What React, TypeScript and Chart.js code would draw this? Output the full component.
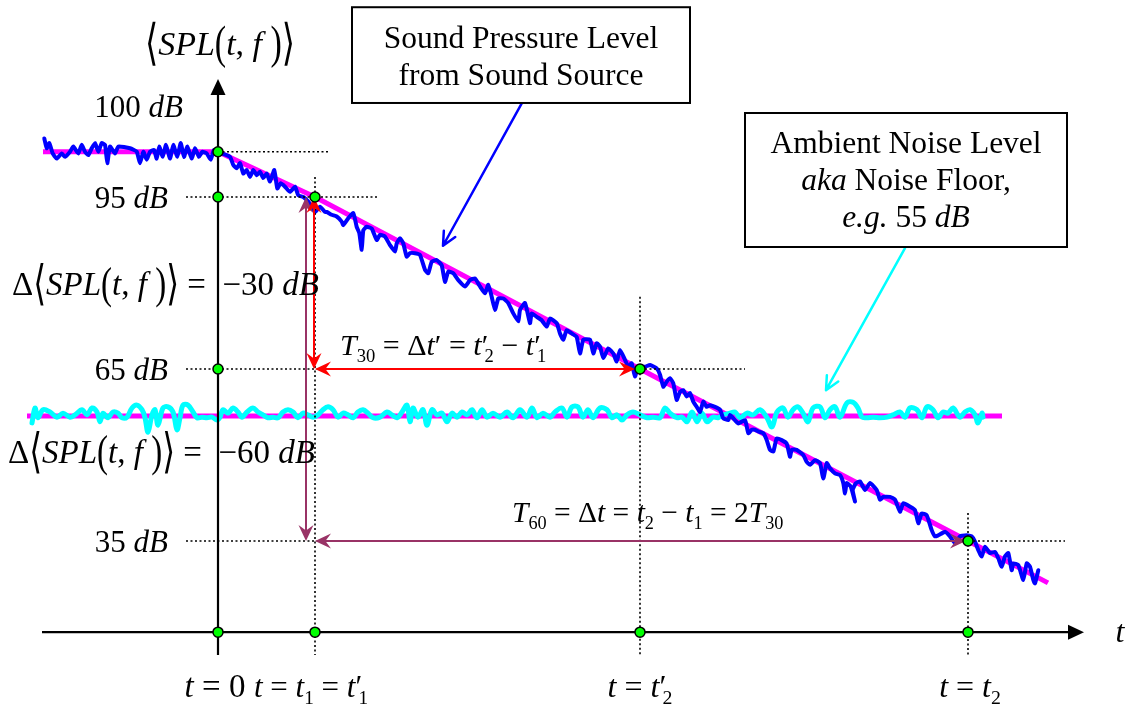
import React, { useEffect, useRef } from "react";
import { Chart, registerables } from "chart.js";

Chart.register(...registerables);

// ---------- data (t in arbitrary time units, level in dB) ----------
const keyTimes = [0, 97, 422, 750]; // t = 0, t1 = t1', t2', t2
const levelValues = [102.9, 95, 65, 35];
const levelLabels = ["100", "95", "65", "35"];
const axisLevel = 19.1;
const noiseFloorLevel = 56.8;

const trendTrace: [number, number][] = [
  [-175, 102.9], [0, 102.9], [97, 95], [422, 65], [750, 35], [830, 27.7],
];
const ambientTrace: [number, number][] = [
  [-191, noiseFloorLevel], [784, noiseFloorLevel],
];

const splTrace: [number, number][] = [
  [-173.7, 105.2], [-171.3, 103.5], [-168.7, 104.4], [-165.3, 102.6], [-161.3, 101.7], [-156.3, 102.6],
  [-153, 102.0], [-148, 102.9], [-144.7, 103.8], [-139.7, 102.6], [-136.3, 104.1], [-133, 102.9],
  [-129.7, 102.3], [-126.3, 103.5], [-123, 104.4], [-119.7, 102.9], [-116.3, 104.4], [-113, 104.1],
  [-110.7, 100.9], [-108, 103.8], [-103, 102.6], [-99.7, 103.8], [-88, 103.5], [-81.3, 102.9],
  [-78, 100.9], [-74.7, 102.9], [-71.3, 101.5], [-68, 102.9], [-64, 103.2], [-61.3, 101.7],
  [-58.7, 103.8], [-55.3, 102.0], [-52, 104.1], [-48, 101.7], [-44.7, 104.1], [-40.7, 102.0],
  [-37.3, 104.4], [-34, 102.0], [-30.7, 103.8], [-26.3, 101.7], [-23, 103.5], [-19, 102.0],
  [-15.7, 102.9], [-11.3, 102.6], [-7.3, 101.5], [-4, 103.2], [0.3, 102.9],
  [3.7, 102.6], [12, 102.0], [15.3, 100.6], [18.7, 100.0], [22, 100.9], [25.3, 99.1], [28.7, 99.7],
  [32, 98.5], [35.3, 99.7], [38.7, 98.8], [42, 99.4], [45.3, 98.3], [48.7, 99.1], [52, 97.7],
  [56.3, 99.7], [59.3, 96.5], [62.7, 97.4], [67, 96.8], [72, 95.9], [77, 96.8], [80.3, 95.3],
  [85.3, 95.0], [90.3, 94.2], [93.7, 93.3], [97, 92.4], [102, 93.3], [107, 92.4],
  [108.7, 92.4], [113.7, 91.9], [118.7, 91.6], [123.7, 90.7], [125.3, 90.1], [130.3, 91.3],
  [135.3, 92.2], [138.7, 89.8], [141.3, 88.7], [143.7, 85.8], [145.3, 89.2], [148.7, 89.8],
  [153.7, 89.5], [158.7, 87.5], [162, 88.4], [167, 88.1], [172, 86.6], [177, 85.5], [178.7, 86.9],
  [182, 87.8], [185.3, 86.9], [188.7, 84.6], [192, 85.2], [197, 85.2], [202, 84.9], [207, 82.3],
  [210.3, 81.7], [213.7, 83.7], [218.7, 84.0], [223.7, 83.1], [227, 80.2], [230.3, 82.0],
  [235.3, 81.7], [240.3, 80.5], [247, 79.4], [252, 80.5], [257, 80.8], [262, 79.4], [267, 78.2],
  [270.3, 79.7], [273.7, 77.6], [277, 75.3], [280.3, 77.3], [285.3, 77.3], [290.3, 76.5],
  [295.3, 74.7], [300.3, 73.3], [302, 75.3], [307, 76.5], [312, 73.0], [313.7, 74.7], [318.7, 74.1],
  [323.7, 73.5], [328.7, 72.4], [332, 73.8], [338.7, 73.0], [342, 71.2], [345.3, 70.1], [348.7, 71.8],
  [353.7, 71.2], [358.7, 70.6], [362, 67.7], [365.3, 70.1], [372, 70.1], [375.3, 67.7], [378.7, 69.5],
  [382, 68.9], [385.3, 66.9], [390.3, 68.6], [395.3, 67.7], [398.7, 66.3], [402, 68.3], [407, 66.6],
  [410.3, 65.4], [413.7, 66.0], [417, 63.7], [420.3, 65.4],
  [427, 65.4], [432, 65.7], [438.7, 65.1], [442, 64.0], [445.3, 61.9], [448.7, 62.8], [452, 63.4],
  [455.3, 62.5], [458.7, 59.6], [462, 61.0], [465.3, 61.3], [468.7, 60.2], [472, 60.8], [475.3, 59.3],
  [478.7, 58.4], [482, 57.5], [485.3, 59.3], [488.7, 58.4], [492, 58.7], [497, 58.4], [502, 57.9],
  [505.3, 56.4], [510.3, 56.1], [512, 57.0], [515.3, 56.4], [520.3, 55.5], [527, 56.1], [530.3, 53.8],
  [533.7, 54.4], [537, 54.4], [540.3, 54.1], [545.3, 53.8], [548.7, 52.6], [552, 50.9], [555.3, 50.6],
  [558.7, 52.9], [563.7, 52.6], [568.7, 52.0], [572, 49.7], [573.7, 50.9], [578.7, 50.9], [585.3, 50.0],
  [588.7, 48.8], [592, 48.3], [597, 49.1], [602, 48.6], [605.3, 45.9], [608.7, 48.6], [612, 47.7],
  [617, 46.8], [622, 46.5], [625.3, 45.1], [627, 43.3], [628.7, 45.1], [632.7, 44.5], [637, 41.9],
  [634.7, 43.9], [638, 45.1], [642, 45.4], [647, 43.9], [652, 45.1], [658.7, 43.9], [662, 42.2],
  [665.3, 42.7], [672, 42.7], [677, 42.2], [682, 40.1], [685.3, 41.6], [692, 41.0], [697, 40.4],
  [700.3, 38.1], [703.7, 39.8], [708.7, 39.5], [713.7, 36.9], [717, 35.8], [720.3, 36.0], [727, 36.6],
  [732, 35.8], [737, 34.6], [742, 35.8], [748.7, 36.0], [753.7, 35.8], [757, 34.9], [760.3, 33.4],
  [763.7, 32.3], [767, 34.0], [772, 32.9], [777, 33.1], [780.3, 32.0], [783.7, 30.5], [787, 32.3],
  [790.3, 32.9], [793.7, 29.9], [795.3, 31.1], [800.3, 30.8], [805.3, 28.2], [808.7, 31.1], [812, 30.5],
  [815.3, 28.2], [817, 27.6], [820.3, 29.9],
];

const noiseTrace: [number, number][] = [
  [-186, 55.6], [-183, 58.2], [-180, 56.5], [-175, 57.9], [-168, 57.5], [-161, 56.6], [-155, 57.3],
  [-148, 56.6], [-143, 57.0], [-136, 57.9], [-131, 57.0], [-126, 58.2], [-121, 57.5], [-118, 55.8],
  [-115, 57.3], [-110, 56.5], [-105, 57.5], [-100, 57.3], [-96, 56.5], [-91, 56.6], [-86, 58.2],
  [-81, 58.7], [-76, 57.9], [-73, 56.5], [-70, 54.0], [-66, 57.0], [-63, 57.9], [-60, 55.2], [-55, 58.2],
  [-50, 58.4], [-45, 57.5], [-41, 54.4], [-38, 56.5], [-35, 58.7], [-30, 58.7], [-25, 57.5], [-21, 56.5],
  [-16, 56.6], [-11, 56.5], [-6, 56.6], [-1, 56.1], [2, 56.6], [5, 57.9], [10, 57.3], [15, 58.2],
  [20, 57.5], [24, 56.6], [29, 57.5], [35, 58.2], [40, 57.5], [45, 57.0], [50, 56.5], [55, 56.6],
  [60, 56.5], [65, 57.5], [70, 57.9], [75, 57.5], [80, 56.5], [85, 57.3], [90, 57.0], [95, 56.6],
  [100, 57.0], [105, 57.9], [110, 58.4], [115, 57.9], [120, 56.6], [125, 57.3], [130, 57.0], [135, 56.5],
  [140, 57.5], [145, 57.9], [150, 57.3], [155, 56.5], [162, 56.6], [169, 57.5], [174, 57.0], [179, 56.5],
  [184, 57.5], [189, 58.7], [192, 55.8], [195, 58.2], [200, 56.6], [205, 57.9], [209, 55.2], [214, 57.9],
  [219, 57.0], [224, 57.3], [229, 55.8], [234, 57.3], [239, 56.6], [244, 57.5], [249, 57.0], [254, 57.9],
  [259, 56.5], [264, 57.9], [269, 56.6], [275, 57.3], [282, 56.6], [289, 57.5], [295, 56.5], [302, 57.9],
  [309, 56.6], [314, 58.2], [319, 56.5], [325, 57.3], [332, 56.6], [337, 57.5], [344, 58.2], [349, 56.6],
  [354, 58.4], [360, 58.4], [365, 56.6], [370, 57.9], [375, 56.5], [382, 58.2], [389, 57.9], [394, 56.5],
  [399, 57.0], [404, 56.1], [409, 57.0], [415, 57.5], [422, 57.0], [429, 56.5], [435, 56.6], [442, 56.5],
  [447, 58.2], [452, 57.3], [459, 56.5], [464, 56.6], [469, 55.8], [474, 57.5], [479, 55.8], [484, 57.3],
  [489, 55.8], [495, 56.6], [500, 56.5], [505, 57.0], [512, 57.3], [517, 57.5], [522, 56.5], [529, 57.3],
  [535, 57.0], [542, 57.9], [549, 56.5], [554, 54.9], [559, 57.5], [565, 58.2], [570, 56.6], [575, 57.9],
  [580, 58.4], [585, 57.3], [590, 55.8], [595, 58.2], [602, 58.4], [607, 56.5], [612, 57.9], [617, 58.4],
  [622, 56.6], [629, 59.1], [635, 59.2], [640, 58.2], [644, 56.6], [649, 56.5], [655, 56.6], [662, 56.5],
  [669, 56.6], [675, 57.0], [682, 57.5], [687, 56.6], [692, 58.2], [699, 57.9], [704, 56.5], [709, 58.4],
  [715, 57.9], [720, 56.5], [725, 57.5], [730, 57.3], [735, 58.2], [742, 56.6], [747, 57.5], [752, 57.9],
  [757, 57.0], [760, 55.6], [764, 57.3], [765, 56.6],
];

const markerPoints: [number, number][] = [
  [0, 102.9], [0, 95], [0, 65],
  [97, 95], [422, 65], [750, 35],
  [0, axisLevel], [97, axisLevel], [422, axisLevel], [750, axisLevel],
];

// ---------- text helpers ----------
const SERIF = '"Liberation Serif", "Times New Roman", serif';
const BRK = '"DejaVu Sans", sans-serif';

type Seg = { s: string; it?: boolean; sub?: boolean; sc?: number; back?: boolean; fam?: string; sz?: number };

function fontFor(seg: Seg, size: number) {
  const sz = seg.sub ? size * 0.62 : size * (seg.sz || 1);
  return `${seg.it ? "italic " : ""}${sz}px ${seg.fam || SERIF}`;
}

function layoutRich(ctx: CanvasRenderingContext2D, segs: Seg[], size: number) {
  let x = 0;
  let prevW = 0;
  const out: { seg: Seg; x: number; w: number }[] = [];
  for (const seg of segs) {
    ctx.font = fontFor(seg, size);
    const w = ctx.measureText(seg.s).width;
    if (seg.back) {
      const sx = x - prevW * 0.55;
      out.push({ seg, x: sx, w });
      x = Math.max(x, sx + w);
    } else {
      out.push({ seg, x, w });
      x += w;
    }
    prevW = w;
  }
  return { items: out, width: x };
}

function drawRich(ctx: CanvasRenderingContext2D, segs: Seg[], x: number, y: number, size: number, align: "left" | "center" | "right") {
  const { items, width } = layoutRich(ctx, segs, size);
  const x0 = align === "left" ? x : align === "center" ? x - width / 2 : x - width;
  ctx.save();
  ctx.fillStyle = "#000";
  ctx.textAlign = "left";
  ctx.textBaseline = "alphabetic";
  for (const it of items) {
    const seg = it.seg;
    ctx.font = fontFor(seg, size);
    const px = x0 + it.x;
    if (seg.sub) {
      ctx.fillText(seg.s, px, y + size * 0.22);
    } else if (seg.sc) {
      const axis = y - size * 0.28;
      ctx.save();
      ctx.translate(px, axis);
      ctx.scale(1, seg.sc);
      ctx.fillText(seg.s, 0, size * 0.28);
      ctx.restore();
    } else {
      ctx.fillText(seg.s, px, y);
    }
  }
  ctx.restore();
}

const splSegs: Seg[] = [
  { s: "⟨", sc: 1.45, fam: BRK }, { s: "SPL", it: true }, { s: "(", sc: 1.35 }, { s: "t", it: true },
  { s: ", " }, { s: "f", it: true }, { s: " " }, { s: ")", sc: 1.35 }, { s: "⟩", sc: 1.45, fam: BRK },
];

// ---------- drawing helpers ----------
function arrowHead(ctx: CanvasRenderingContext2D, x: number, y: number, ang: number, len: number, hw: number, color: string) {
  ctx.save();
  ctx.translate(x, y);
  ctx.rotate(ang);
  ctx.beginPath();
  ctx.moveTo(0, 0);
  ctx.lineTo(-len, -hw);
  ctx.lineTo(-len * 0.65, 0);
  ctx.lineTo(-len, hw);
  ctx.closePath();
  ctx.fillStyle = color;
  ctx.fill();
  ctx.restore();
}

function dblArrow(ctx: CanvasRenderingContext2D, x1: number, y1: number, x2: number, y2: number, color: string) {
  const ang = Math.atan2(y2 - y1, x2 - x1);
  ctx.save();
  ctx.strokeStyle = color;
  ctx.lineWidth = 2;
  ctx.beginPath();
  ctx.moveTo(x1 + Math.cos(ang) * 8, y1 + Math.sin(ang) * 8);
  ctx.lineTo(x2 - Math.cos(ang) * 8, y2 - Math.sin(ang) * 8);
  ctx.stroke();
  ctx.restore();
  arrowHead(ctx, x2, y2, ang, 16, 7.5, color);
  arrowHead(ctx, x1, y1, ang + Math.PI, 16, 7.5, color);
}

function openArrow(ctx: CanvasRenderingContext2D, x1: number, y1: number, x2: number, y2: number, color: string) {
  const ang = Math.atan2(y2 - y1, x2 - x1);
  ctx.save();
  ctx.strokeStyle = color;
  ctx.lineWidth = 2.5;
  ctx.lineCap = "round";
  ctx.lineJoin = "round";
  ctx.beginPath();
  ctx.moveTo(x1, y1);
  ctx.lineTo(x2, y2);
  const L = 15;
  ctx.moveTo(x2 - L * Math.cos(ang - 0.45), y2 - L * Math.sin(ang - 0.45));
  ctx.lineTo(x2, y2);
  ctx.lineTo(x2 - L * Math.cos(ang + 0.45), y2 - L * Math.sin(ang + 0.45));
  ctx.stroke();
  ctx.restore();
}

function drawOverlay(chart: any) {
  const ctx: CanvasRenderingContext2D = chart.ctx;
  const xs = chart.scales.x;
  const ys = chart.scales.y;
  const X = (t: number) => xs.getPixelForValue(t);
  const Y = (l: number) => ys.getPixelForValue(l);
  const [t0, t1, t2p, t2] = keyTimes;
  const [l100, l95, l65, l35] = levelValues;
  const bottom = 15.1;

  ctx.save();
  // dotted guide lines
  ctx.strokeStyle = "#000";
  ctx.lineWidth = 1.6;
  ctx.setLineDash([2, 2.5]);
  const hl = (l: number, a: number, b: number) => { ctx.beginPath(); ctx.moveTo(X(a), Y(l)); ctx.lineTo(X(b), Y(l)); ctx.stroke(); };
  const vl = (t: number, a: number, b: number) => { ctx.beginPath(); ctx.moveTo(X(t), Y(a)); ctx.lineTo(X(t), Y(b)); ctx.stroke(); };
  hl(l100, t0, 110);
  hl(l95, -32, 159);
  hl(l65, -32, 527);
  hl(l35, -32, 847);
  vl(t1, 98.5, bottom);
  vl(t2p, 77.6, bottom);
  vl(t2, 39.9, bottom);
  ctx.setLineDash([]);

  // axes
  ctx.lineWidth = 2.2;
  ctx.strokeStyle = "#000";
  ctx.beginPath();
  ctx.moveTo(X(t0), Y(bottom));
  ctx.lineTo(X(t0), Y(112.8));
  ctx.moveTo(X(-176), Y(axisLevel));
  ctx.lineTo(X(850), Y(axisLevel));
  ctx.stroke();
  ctx.fillStyle = "#000";
  ctx.beginPath();
  ctx.moveTo(X(t0), Y(115.6));
  ctx.lineTo(X(t0) - 7.5, Y(112.8));
  ctx.lineTo(X(t0) + 7.5, Y(112.8));
  ctx.closePath();
  ctx.fill();
  ctx.beginPath();
  ctx.moveTo(X(866), Y(axisLevel));
  ctx.lineTo(X(850), Y(axisLevel) - 7.5);
  ctx.lineTo(X(850), Y(axisLevel) + 7.5);
  ctx.closePath();
  ctx.fill();

  // measurement arrows
  dblArrow(ctx, X(88), Y(l95), X(88), Y(l35), "#993366");
  dblArrow(ctx, X(96), Y(l95), X(96), Y(l65), "#FF0000");
  dblArrow(ctx, X(t1), Y(l65), X(417), Y(l65), "#FF0000");
  dblArrow(ctx, X(t1), Y(l35), X(748), Y(l35), "#993366");

  // callout arrows
  openArrow(ctx, X(304), Y(111.4), X(225), Y(86.5), "#0000FF");
  openArrow(ctx, X(687), Y(86.1), X(608), Y(61.3), "#00FFFF");

  // boxes
  ctx.lineWidth = 2;
  ctx.strokeStyle = "#000";
  ctx.fillStyle = "#fff";
  const box = (a: number, b: number, c: number, d: number) => {
    const x = X(a), y = Y(c), w = X(b) - X(a), h = Y(d) - Y(c);
    ctx.fillRect(x, y, w, h);
    ctx.strokeRect(x, y, w, h);
  };
  box(134, 472, 128.1, 111.4);
  box(527, 849, 109.65, 86.28);

  // box texts
  drawRich(ctx, [{ s: "Sound Pressure Level" }], X(303), Y(121.0), 31.5, "center");
  drawRich(ctx, [{ s: "from Sound Source" }], X(303), Y(114.5), 31.5, "center");
  drawRich(ctx, [{ s: "Ambient Noise Level" }], X(688), Y(102.7), 31.5, "center");
  drawRich(ctx, [{ s: "aka", it: true }, { s: " Noise Floor," }], X(688), Y(96.2), 31.5, "center");
  drawRich(ctx, [{ s: "e.g.", it: true }, { s: " 55 " }, { s: "dB", it: true }], X(688), Y(89.8), 31.5, "center");

  // axis title
  drawRich(ctx, splSegs, X(2), Y(119.8), 34, "center");

  // level labels
  drawRich(ctx, [{ s: levelLabels[0] + " " }, { s: "dB", it: true }], X(-35), Y(108.9), 31, "right");
  drawRich(ctx, [{ s: levelLabels[1] + " " }, { s: "dB", it: true }], X(-50), Y(l95) + 11, 31, "right");
  drawRich(ctx, [{ s: levelLabels[2] + " " }, { s: "dB", it: true }], X(-50), Y(l65) + 11, 31, "right");
  drawRich(ctx, [{ s: levelLabels[3] + " " }, { s: "dB", it: true }], X(-50), Y(l35) + 11, 31, "right");

  // difference labels
  const dSeg = (v: string): Seg[] => [{ s: "Δ" }, ...splSegs, { s: " =  " }, { s: "−" }, { s: v + " " }, { s: "dB", it: true }];
  drawRich(ctx, dSeg("30"), X(-206), Y(77.9), 33, "left");
  drawRich(ctx, dSeg("60"), X(-210), Y(48.6), 33, "left");

  // reverberation time labels
  drawRich(ctx, [
    { s: "T", it: true }, { s: "30", sub: true }, { s: " = Δ" }, { s: "t", it: true }, { s: "′" },
    { s: " = " }, { s: "t", it: true }, { s: "′" }, { s: "2", sub: true, back: true }, { s: " − " },
    { s: "t", it: true }, { s: "′" }, { s: "1", sub: true, back: true },
  ], X(122), Y(67.4), 30, "left");
  drawRich(ctx, [
    { s: "T", it: true }, { s: "60", sub: true }, { s: " = Δ" }, { s: "t", it: true }, { s: " = " },
    { s: "t", it: true }, { s: "2", sub: true }, { s: " − " }, { s: "t", it: true }, { s: "1", sub: true },
    { s: " = 2" }, { s: "T", it: true }, { s: "30", sub: true },
  ], X(294), Y(38.3), 29.5, "left");

  // time labels
  const by = Y(7.8);
  drawRich(ctx, [{ s: "t", it: true }, { s: " = 0" }], X(-3), by, 33, "center");
  drawRich(ctx, [{ s: "t", it: true }, { s: " = " }, { s: "t", it: true }, { s: "1", sub: true }, { s: " = " },
    { s: "t", it: true }, { s: "′" }, { s: "1", sub: true, back: true }], X(93), by, 31, "center");
  drawRich(ctx, [{ s: "t", it: true }, { s: " = " }, { s: "t", it: true }, { s: "′" }, { s: "2", sub: true, back: true }], X(t2p), by, 32, "center");
  drawRich(ctx, [{ s: "t", it: true }, { s: " = " }, { s: "t", it: true }, { s: "2", sub: true }], X(752), by, 32, "center");
  drawRich(ctx, [{ s: "t", it: true }], X(902), Y(17.4), 32, "center");

  ctx.restore();
}

const overlayPlugin = {
  id: "diagramOverlay",
  beforeDatasetDraw(chart: any, args: any) {
    if (args.index === 0) drawOverlay(chart);
  },
};

const toXY = (arr: [number, number][]) => arr.map(([x, y]) => ({ x, y }));

export default function App() {
  const ref = useRef<HTMLCanvasElement | null>(null);
  useEffect(() => {
    document.body.style.margin = "0";
    const canvas = ref.current;
    if (!canvas) return;
    const chart = new Chart(canvas, {
      type: "line",
      data: {
        datasets: [
          {
            label: "Markers",
            data: toXY(markerPoints),
            showLine: false,
            pointRadius: 5,
            pointBackgroundColor: "#00FF00",
            pointBorderColor: "#000000",
            pointBorderWidth: 1.5,
            order: 0,
          },
          {
            label: "Sound Pressure Level",
            data: toXY(splTrace),
            borderColor: "#0000FF",
            borderWidth: 4,
            pointRadius: 0,
            tension: 0.15,
            borderJoinStyle: "round",
            borderCapStyle: "round",
            order: 1,
          },
          {
            label: "Ambient Noise Level",
            data: toXY(noiseTrace),
            borderColor: "#00FFFF",
            borderWidth: 5,
            pointRadius: 0,
            tension: 0.35,
            borderJoinStyle: "round",
            borderCapStyle: "round",
            order: 2,
          },
          {
            label: "Decay trend",
            data: toXY(trendTrace),
            borderColor: "#FF00FF",
            borderWidth: 5,
            pointRadius: 0,
            tension: 0,
            order: 3,
          },
          {
            label: "Noise floor",
            data: toXY(ambientTrace),
            borderColor: "#FF00FF",
            borderWidth: 5,
            pointRadius: 0,
            tension: 0,
            order: 4,
          },
        ],
      },
      options: {
        animation: false,
        responsive: false,
        devicePixelRatio: 1,
        events: [],
        layout: { padding: 0, autoPadding: false },
        scales: {
          x: { type: "linear", min: -218, max: 910, display: false },
          y: { type: "linear", min: 5.7, max: 129.36, display: false },
        },
        plugins: { legend: { display: false }, tooltip: { enabled: false } },
      },
      plugins: [overlayPlugin],
    } as any);
    return () => chart.destroy();
  }, []);
  return <canvas ref={ref} width={1128} height={709} style={{ display: "block" }} />;
}
